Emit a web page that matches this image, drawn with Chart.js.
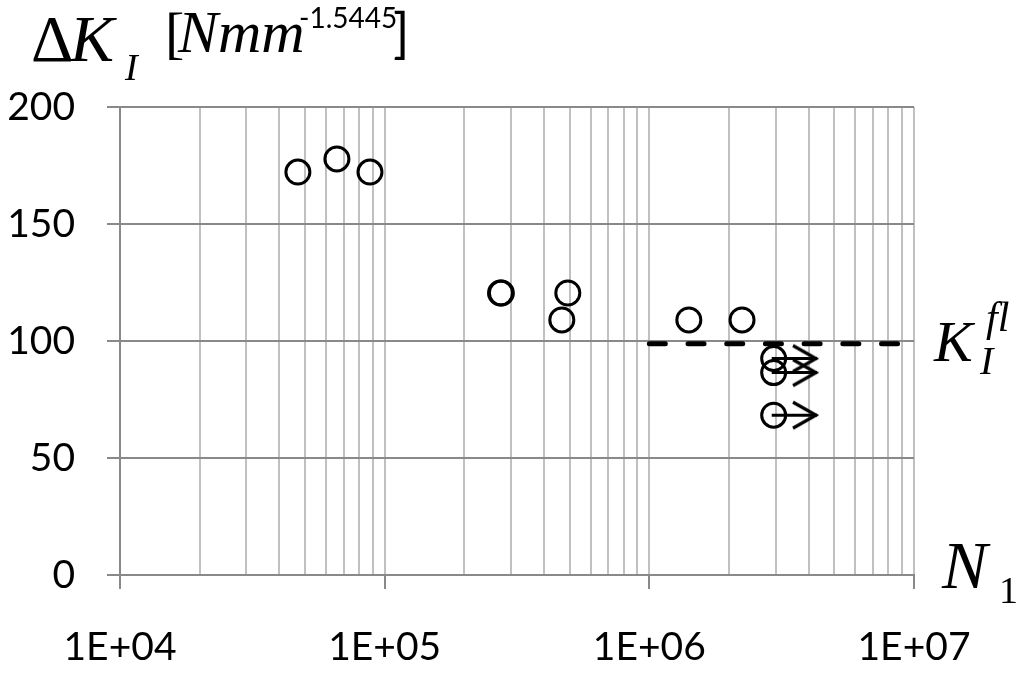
<!DOCTYPE html>
<html>
<head>
<meta charset="utf-8">
<script src="https://cdn.jsdelivr.net/npm/chart.js@4.4.1/dist/chart.umd.min.js"></script>
<style>
  html, body { margin: 0; padding: 0; background: #fff; }
  #wrap { width: 1017px; height: 673px; position: relative; }
</style>
</head>
<body>
<div id="wrap"><canvas id="c"></canvas></div>
<script>
// Fatigue test results: number of cycles N1 vs. stress intensity range ΔK_I
const cycles  = [47000, 66000, 88000, 274000, 276000, 467000, 492000, 1410000, 2240000, 2950000, 2950000, 2950000];
const deltaK  = [172.2, 177.8, 172.2, 120.5, 120.5, 109.0, 120.5, 109.0, 109.0, 92.5, 86.5, 68.3];

// Run-outs (specimens that did not fail): arrows pointing to longer life
const runoutLevels = [92.5, 86.5, 68.3];
const runoutStart  = 2900000;
const runoutEnd    = 4300000;

// Fatigue limit K_I^fl
const fatigueLimit = 98.8;
const fatigueRange = [1000000, 10000000];

// Axis ticks
const xTickValues = [1e4,2e4,3e4,4e4,5e4,6e4,7e4,8e4,9e4,
                     1e5,2e5,3e5,4e5,5e5,6e5,7e5,8e5,9e5,
                     1e6,2e6,3e6,4e6,5e6,6e6,7e6,8e6,9e6,1e7];
const xMajorTicks = [1e4, 1e5, 1e6, 1e7];
const xMajorLabels = ['1E+04', '1E+05', '1E+06', '1E+07'];
const yTickValues = [0, 50, 100, 150, 200];

const isMajor = v => xMajorTicks.some(m => Math.abs(m - v) / m < 1e-6);

// Open chevron used as the arrow head (tip at the image centre)
function makeArrowHead() {
  const len = 24, half = 13, lw = 3.2;
  const c = document.createElement('canvas');
  c.width = len * 2 + 4;
  c.height = half * 2 + 6;
  const g = c.getContext('2d');
  const tipX = c.width / 2, midY = c.height / 2;
  g.strokeStyle = '#000';
  g.lineWidth = lw;
  g.lineCap = 'butt';
  g.lineJoin = 'miter';
  g.beginPath();
  g.moveTo(tipX - len, midY - half);
  g.lineTo(tipX - 1, midY);
  g.lineTo(tipX - len, midY + half);
  g.stroke();
  return c;
}
const arrowHead = makeArrowHead();

const runoutDatasets = runoutLevels.map(level => ({
  type: 'line',
  data: [{x: runoutStart, y: level}, {x: runoutEnd, y: level}],
  borderColor: '#000',
  borderWidth: 3,
  pointStyle: [false, arrowHead],
  pointRadius: [0, 10],
  pointHoverRadius: [0, 10],
  fill: false,
  order: 2
}));

// Axis titles and the fatigue limit label
const annotationText = {
  id: 'annotationText',
  afterDraw(chart) {
    const g = chart.ctx;
    g.save();
    g.fillStyle = '#000';
    g.textBaseline = 'alphabetic';
    g.textAlign = 'left';
    const serif = '"Liberation Serif", "Times New Roman", serif';
    const sans = 'Lato, "Open Sans", sans-serif';

    // ΔK_I [Nmm^-1.5445]
    g.font = '66px ' + serif;
    g.fillText('Δ', 31, 61);
    g.font = 'italic 66px ' + serif;
    g.fillText('K', 70, 61);
    g.font = 'italic 38px ' + serif;
    g.fillText('I', 125, 80);
    g.font = '58px ' + serif;
    g.fillText('[', 165, 52);
    g.font = 'italic 60px ' + serif;
    g.fillText('Nmm', 178, 52);
    g.font = '28px ' + sans;
    g.fillText('-1.5445', 299, 28);
    g.font = '54px ' + sans;
    g.fillText(']', 393, 52);

    // K_I^fl
    g.font = 'italic 58px ' + serif;
    g.fillText('K', 934, 361);
    g.font = 'italic 42px ' + serif;
    g.fillText('fl', 986, 331);
    g.font = 'italic 40px ' + serif;
    g.fillText('I', 980, 374);

    // N_1
    g.font = 'italic 68px ' + serif;
    g.fillText('N', 942, 588);
    g.font = '38px ' + serif;
    g.fillText('1', 999, 603);
    g.restore();
  }
};

new Chart(document.getElementById('c'), {
  type: 'scatter',
  data: {
    datasets: [
      {
        data: cycles.map((n, i) => ({x: n, y: deltaK[i]})),
        pointStyle: 'circle',
        pointRadius: 12,
        pointHoverRadius: 12,
        pointBorderWidth: 3,
        borderColor: '#000',
        backgroundColor: 'rgba(0,0,0,0)',
        order: 1
      },
      {
        type: 'line',
        data: fatigueRange.map(n => ({x: n, y: fatigueLimit})),
        borderColor: '#000',
        borderWidth: 5,
        borderDash: [16, 22.7],
        borderCapStyle: 'round',
        pointRadius: 0,
        fill: false,
        order: 3
      },
      ...runoutDatasets
    ]
  },
  options: {
    responsive: true,
    maintainAspectRatio: false,
    animation: false,
    events: [],
    layout: { padding: { top: 107, right: 103, left: 0, bottom: 0 } },
    plugins: { legend: { display: false }, tooltip: { enabled: false } },
    scales: {
      x: {
        type: 'logarithmic',
        min: 1e4,
        max: 1e7,
        afterBuildTicks: s => { s.ticks = xTickValues.map(v => ({value: v, major: isMajor(v)})); },
        afterFit: s => { s.height = 98; },
        ticks: {
          autoSkip: false,
          maxRotation: 0,
          minRotation: 0,
          padding: 35,
          color: '#000',
          font: { family: 'Lato, "Open Sans", sans-serif', size: 39 },
          callback: v => {
            const i = xMajorTicks.findIndex(m => Math.abs(m - v) / m < 1e-6);
            return i >= 0 ? xMajorLabels[i] : '';
          }
        },
        grid: {
          color: '#c0c0c0',
          lineWidth: 2,
          tickLength: 14,
          tickColor: ctx => (ctx.tick && isMajor(ctx.tick.value)) ? '#898989' : 'rgba(0,0,0,0)',
          tickWidth: 2
        },
        border: { display: true, color: '#898989', width: 2 }
      },
      y: {
        min: 0,
        max: 200,
        afterBuildTicks: s => { s.ticks = yTickValues.map(v => ({value: v})); },
        afterFit: s => { s.width = 120; },
        ticks: {
          padding: 32,
          color: '#000',
          font: { family: 'Lato, "Open Sans", sans-serif', size: 39 }
        },
        grid: {
          color: '#898989',
          lineWidth: 2,
          tickLength: 13,
          tickColor: '#898989',
          tickWidth: 2
        },
        border: { display: true, color: '#898989', width: 2 }
      }
    }
  },
  plugins: [annotationText]
});
</script>
</body>
</html>
